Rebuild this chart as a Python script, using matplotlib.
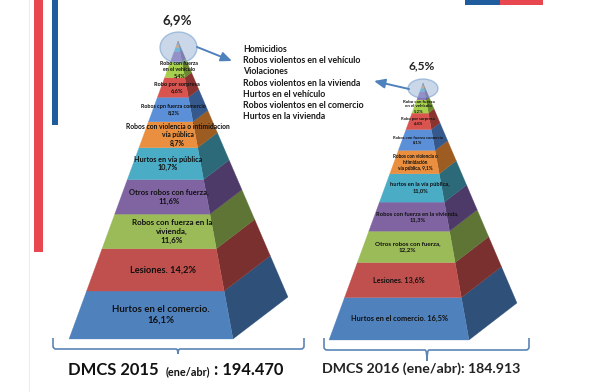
import matplotlib
matplotlib.use("Agg")
import matplotlib.pyplot as plt
from matplotlib.patches import Polygon, Ellipse, Rectangle, PathPatch
from matplotlib.path import Path

plt.rcParams['font.family'] = ['Lato', 'DejaVu Sans']

# ---- data ----
values_2015 = [16.1, 14.2, 11.6, 11.6, 10.7, 8.7, 8.2, 6.6, 5.4, 3.4, 1.3, 1.0, 0.6, 0.3, 0.2, 0.1]
values_2016 = [16.5, 13.6, 12.2, 11.3, 11.0, 9.1, 8.1, 6.4, 5.2, 3.2, 1.2, 1.0, 0.6, 0.3, 0.1, 0.1]
labels_2015 = ["Hurtos en el comercio.\n16,1%", "Lesiones. 14,2%",
               "Robos con fuerza en la\nvivienda,\n11,6%", "Otros robos con fuerza,\n11,6%",
               "Hurtos en vía pública\n10,7%", "Robos con violencia o intimidacion\nvía pública\n8,7%",
               "Robos cpn fuerza comercio\n8,2%", "Robo por sorpresa\n6,6%",
               "Robo con fuerza\nen el vehículo\n5,4%"]
labels_2016 = ["Hurtos en el comercio. 16,5%", "Lesiones. 13,6%",
               "Otros robos con fuerza,\n12,2%", "Robos con fuerza en la vivienda,\n11,3%",
               "hurtos en la vía pública,\n11,0%", "Robos con violencia o\nintimidación\nvía pública, 9,1%",
               "Robos con fuerza comercio\n8,1%", "Robo por sorpresa\n6,4%",
               "Robo con fuerza\nen el vehículo\n5,2%"]
top_list = ["Homicidios", "Robos violentos en el vehículo", "Violaciones",
            "Robos violentos en la vivienda", "Hurtos en el vehículo",
            "Robos violentos en el comercio", "Hurtos en la vivienda"]
top_2015, top_2016 = "6,9%", "6,5%"
title_2015 = ["DMCS 2015 ", "(ene/abr)", " : 194.470"]
title_2016 = "DMCS 2016 (ene/abr): 184.913"

# ---- style ----
front = ["#4f81bd", "#c0504d", "#9bbb59", "#8064a2", "#4bacc6", "#e98f3f",
         "#5b8fd8", "#d9534f", "#a8d04f", "#8a63b8", "#3fb5d8", "#f09a3c",
         "#5b8fd8", "#d9534f", "#a8d04f", "#8a63b8"]
side = ["#2f5078", "#7a302e", "#5f7536", "#4e3a68", "#2c6a7a", "#9c5c22",
        "#35598c", "#8a3431", "#6b8a2f", "#55397a", "#27708a", "#a0601f",
        "#35598c", "#8a3431", "#6b8a2f", "#55397a"]
sizes_2015 = [6.9, 6.7, 5.8, 5.5, 5.2, 4.9, 3.9, 4.1, 3.8]
sizes_2016 = [5.3, 5.2, 4.5, 4.15, 4.1, 3.45, 2.95, 3.0, 3.2]
dx_2015 = [8, 6, 11, 5, 1, 8, 2, 3, 4]
dx_2016 = [-1, -6, 0, 7, 7, 0, 0, -1, -2]

fig = plt.figure(figsize=(5.9, 3.92), dpi=100)
ax = fig.add_axes([0, 0, 1, 1])
ax.set_xlim(0, 590)
ax.set_ylim(392, 0)
ax.axis("off")

# decoration
ax.add_patch(Rectangle((29, 0), 0.8, 392, color="#ececec", lw=0))
ax.add_patch(Rectangle((34, 0), 8.5, 252, color="#e8474f", lw=0))
ax.add_patch(Rectangle((52, 0), 6, 125, color="#1f5c9e", lw=0))
ax.add_patch(Rectangle((465, 0), 35, 4.5, color="#1f5c9e", lw=0))
ax.add_patch(Rectangle((500, 0), 43, 4.5, color="#e8474f", lw=0))


def pyramid(values, labels, sizes, dxs, bl, br, back, apex, ell):
    total = sum(values)
    lerp = lambda p, t: (p[0] + (apex[0] - p[0]) * t, p[1] + (apex[1] - p[1]) * t)
    cum = 0
    for i, v in enumerate(values):
        t0, t1 = cum / total, (cum + v) / total
        cum += v
        ax.add_patch(Polygon([lerp(br, t0), lerp(back, t0), lerp(back, t1), lerp(br, t1)],
                             closed=True, fc=side[i], ec=side[i], lw=0.2))
        ax.add_patch(Polygon([lerp(bl, t0), lerp(br, t0), lerp(br, t1), lerp(bl, t1)],
                             closed=True, fc=front[i], ec=front[i], lw=0.2))
        if i < len(labels):
            tm = (t0 + t1) / 2
            l, r = lerp(bl, tm), lerp(br, tm)
            ax.text((l[0] + r[0]) / 2 + dxs[i], l[1], labels[i], ha="center", va="center",
                    fontsize=sizes[i], fontweight="bold", color="#101010",
                    linespacing=1.25, zorder=7)
    ax.add_patch(Ellipse(ell[:2], ell[2], ell[3], fc="#9db7d8", ec="#6f9bcb", lw=1.0, alpha=0.55, zorder=5))


pyramid(values_2015, labels_2015, sizes_2015, dx_2015, (69, 339), (233, 339), (288, 297), (178, 41),
        (178.5, 47.5, 37, 31))
pyramid(values_2016, labels_2016, sizes_2016, dx_2016, (329, 340), (469, 340), (517, 303), (423, 83),
        (423, 88.5, 30, 19))

# top shares
ax.text(177, 20.5, top_2015, ha="center", va="center", fontsize=9.6, fontweight="bold", color="#222222")
ax.text(422, 65.5, top_2016, ha="center", va="center", fontsize=8.6, fontweight="bold", color="#222222")

# list
for item, y in zip(top_list, [49, 60.5, 71.5, 83, 94, 105, 116.5]):
    ax.text(243, y, item, ha="left", va="center", fontsize=6.3, fontweight="bold", color="#1a1a1a")

# arrows
arrow = dict(arrowstyle="-|>,head_width=0.28,head_length=0.65", color="#4f81bd", lw=1.4, shrinkA=0, shrinkB=0)
ax.annotate("", xy=(232, 61), xytext=(197, 47), arrowprops=arrow, zorder=6)
ax.annotate("", xy=(374, 81), xytext=(409, 89), arrowprops=arrow, zorder=6)


def brace(x0, x1, xt, top, bot, tip):
    r = 3
    verts = [(x0, top), (x0, bot - r), (x0, bot), (x0 + r, bot), (xt - 2, bot), (xt, bot), (xt, tip),
             (xt, bot), (xt + 2, bot), (x1 - r, bot), (x1, bot), (x1, bot - r), (x1, top)]
    codes = [Path.MOVETO, Path.LINETO, Path.CURVE3, Path.CURVE3, Path.LINETO, Path.CURVE3, Path.CURVE3,
             Path.CURVE3, Path.CURVE3, Path.LINETO, Path.CURVE3, Path.CURVE3, Path.LINETO]
    ax.add_patch(PathPatch(Path(verts, codes), fc="none", ec="#5b85b5", lw=1.2))


brace(53, 304, 178, 338, 349, 354)
brace(324, 529, 427, 338, 350, 361)

# titles
fig.canvas.draw()
rend = fig.canvas.get_renderer()
x = 68
for part, fs in zip(title_2015, [11.9, 7.8, 11.9]):
    t = ax.text(x, 375, part, ha="left", va="baseline", fontsize=fs, fontweight="bold", color="#111111")
    x += t.get_window_extent(rend).width + (3 if part.endswith(" ") else 0)
ax.text(322, 373, title_2016, ha="left", va="baseline", fontsize=10.2, fontweight="bold", color="#222222")

fig.savefig("out.png", dpi=100)
